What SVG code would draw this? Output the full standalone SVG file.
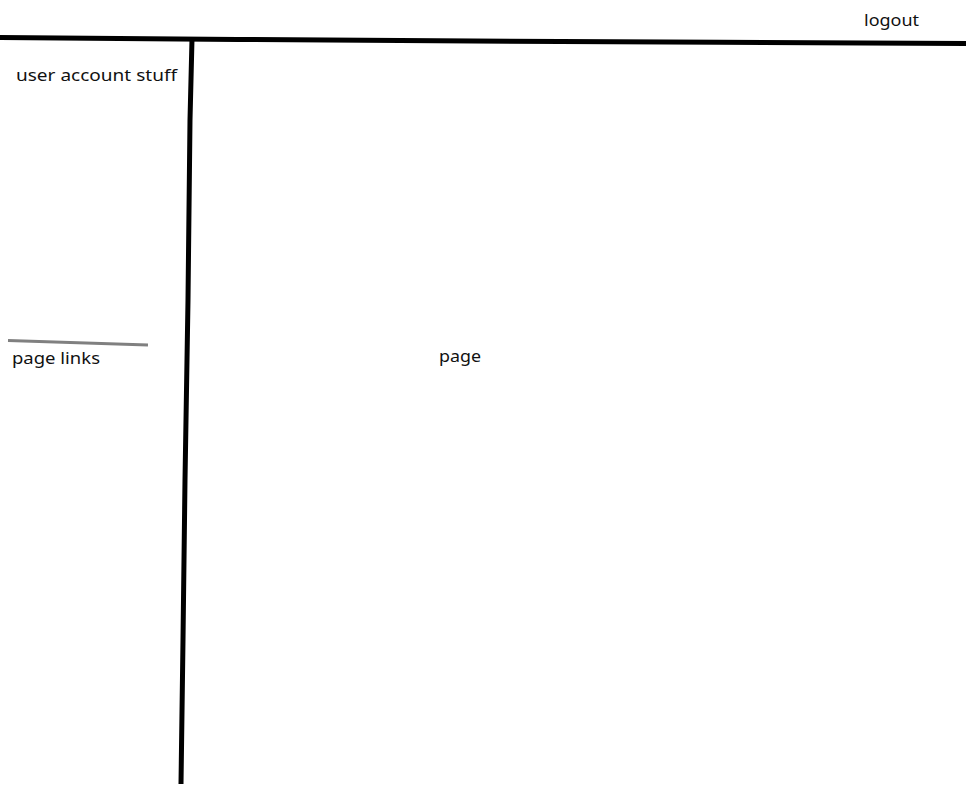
<svg xmlns="http://www.w3.org/2000/svg" width="966" height="785" viewBox="0 0 966 785">
<style>
.t{font-family:"Noto Sans","Open Sans","DejaVu Sans",sans-serif;font-size:17px;fill:#111}
.bl{fill:none;stroke:#000;stroke-width:5;stroke-linejoin:round}
</style>
<rect width="966" height="785" fill="#fff"/>
<g id="lines">
<polyline class="bl" points="0,37.5 238,39.5 400,40.5 560,41.5 720,42.2 966,43.5"/>
<polyline class="bl" points="192,39 190,120 188,300 185,480 183,640 181,784"/>
<line x1="8" y1="340.5" x2="148" y2="345" stroke="#808080" stroke-width="3"/>
</g>
<g id="logout"><text class="t" x="864" y="26" textLength="55" lengthAdjust="spacingAndGlyphs">logout</text></g>
<g id="user"><text class="t" x="16" y="81" textLength="161" lengthAdjust="spacingAndGlyphs">user account stuff</text></g>
<g id="links"><text class="t" x="12" y="364" textLength="88" lengthAdjust="spacingAndGlyphs">page links</text></g>
<g id="page"><text class="t" x="439" y="362" textLength="42" lengthAdjust="spacingAndGlyphs">page</text></g>
</svg>
